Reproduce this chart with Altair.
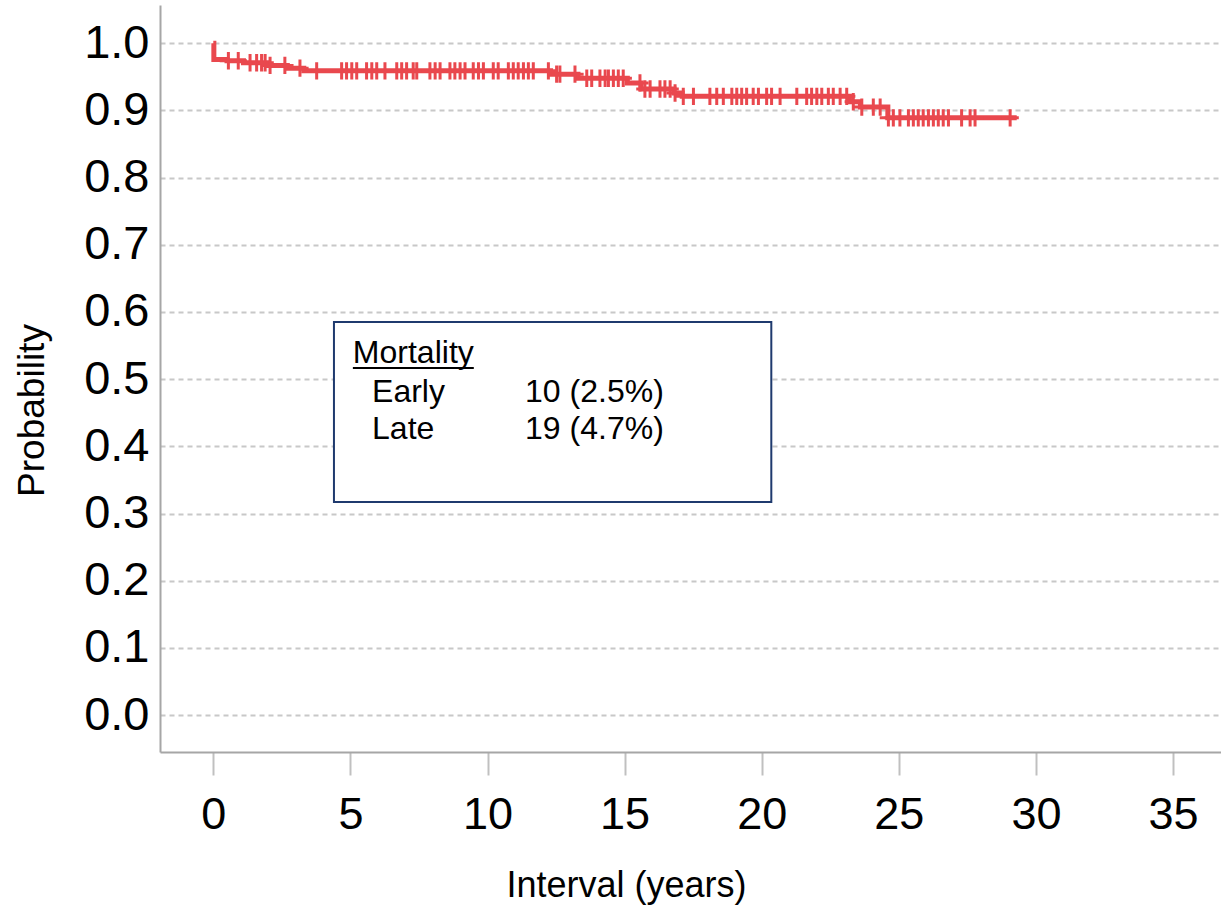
import altair as alt
import pandas as pd

# Kaplan-Meier step curve
step_times = [0.0, 0.02, 0.5, 1.1, 2.0, 2.7, 3.3, 12.3, 13.3, 15.1, 15.6, 16.8, 17.1, 23.2, 23.6, 24.6, 29.3]
step_surv = [1.0, 0.976, 0.974, 0.971, 0.967, 0.963, 0.959, 0.954, 0.948, 0.941, 0.932, 0.926, 0.921, 0.913, 0.905, 0.889, 0.889]

# Censoring times (+ marks)
censor_times = [
    0.55, 0.91, 1.34, 1.58, 1.76, 1.89, 2.07, 2.61, 3.16, 3.77, 4.68, 4.86, 5.05, 5.23,
    5.59, 5.78, 5.96, 6.26, 6.69, 6.87, 7.05, 7.29, 7.42, 7.90, 8.09, 8.27, 8.63, 8.81,
    9.00, 9.18, 9.48, 9.67, 9.85, 10.21, 10.39, 10.76, 10.94, 11.12, 11.31, 11.49, 11.67,
    12.22, 12.52, 12.64, 13.19, 13.62, 13.80, 14.10, 14.29, 14.41, 14.59, 14.77, 14.95,
    15.56, 15.74, 15.93, 16.29, 16.47, 16.66, 16.84, 17.14, 17.51, 18.11, 18.36, 18.60,
    18.91, 19.09, 19.27, 19.45, 19.69, 19.88, 20.18, 20.36, 20.67, 21.28, 21.64, 21.82,
    22.01, 22.19, 22.43, 22.61, 22.86, 23.10, 23.34, 23.65, 24.07, 24.32, 24.62, 24.80,
    25.04, 25.35, 25.53, 25.71, 25.89, 26.08, 26.26, 26.44, 26.62, 26.81, 27.29, 27.60,
    27.78, 29.06,
]

x_ticks = [0, 5, 10, 15, 20, 25, 30, 35]
y_ticks = [0.0, 0.1, 0.2, 0.3, 0.4, 0.5, 0.6, 0.7, 0.8, 0.9, 1.0]

# Annotation box (data units)
box_x = [4.40, 20.35]
box_y = [0.317, 0.585]
note_labels = ["Mortality", "Early", "10 (2.5%)", "Late", "19 (4.7%)"]
note_x = [5.09, 5.79, 11.37, 5.79, 11.37]
note_y = [0.524, 0.466, 0.466, 0.411, 0.411]
underline_x = [5.09, 9.50]
underline_y = 0.5166

RED = "#e9484e"
FONT = "Liberation Sans"


def surv_at(t):
    s = step_surv[0]
    for tt, ss in zip(step_times, step_surv):
        if tt <= t:
            s = ss
    return s


line_df = pd.DataFrame({"t": step_times, "s": step_surv})
cens_df = pd.DataFrame({"t": censor_times, "s": [surv_at(t) for t in censor_times]})
box_df = pd.DataFrame({"x": [box_x[0]], "x2": [box_x[1]], "y": [box_y[0]], "y2": [box_y[1]]})
note_df = pd.DataFrame({"label": note_labels, "x": note_x, "y": note_y})
ul_df = pd.DataFrame({"x": [underline_x[0]], "x2": [underline_x[1]], "y": [underline_y]})

x_scale = alt.Scale(domain=[-1.944, 36.75], nice=False, zero=False)
y_scale = alt.Scale(domain=[-0.055, 1.057], nice=False, zero=False)

x_axis = alt.Axis(
    values=x_ticks, format="d", grid=False,
    domainColor="#a6a6a6", domainWidth=2,
    tickColor="#c0c0c0", tickWidth=2, tickSize=23,
    labelFont=FONT, labelFontSize=45, labelColor="black", labelPadding=17,
    labelBaseline="top",
    title="Interval (years)", titleFont=FONT, titleFontSize=36, titleFontWeight="normal",
    titleColor="black", titleX=466, titleY=144, titleAlign="center", titleBaseline="alphabetic",
    titleAnchor="start",
)
y_axis = alt.Axis(
    values=y_ticks, format=".1f", grid=True, gridColor="#c8c8c8", gridDash=[5, 4], gridWidth=2,
    ticks=False, domainColor="#a6a6a6", domainWidth=2,
    labelFont=FONT, labelFontSize=47, labelColor="black", labelPadding=11,
    title="Probability", titleFont=FONT, titleFontSize=37, titleFontWeight="normal",
    titleColor="black", titleX=-117, titleY=405, titleAngle=270, titleAlign="center",
    titleBaseline="alphabetic", titleAnchor="start",
)

line = alt.Chart(line_df).mark_line(interpolate="step-after", color=RED, strokeWidth=5).encode(
    x=alt.X("t:Q", scale=x_scale, axis=x_axis),
    y=alt.Y("s:Q", scale=y_scale, axis=y_axis),
)

cens = alt.Chart(cens_df).mark_point(
    shape="M0,-1L0,1M-1,0L1,0", size=300, stroke=RED, strokeWidth=3, opacity=1, filled=False
).encode(x=alt.X("t:Q", scale=x_scale), y=alt.Y("s:Q", scale=y_scale))

box = alt.Chart(box_df).mark_rect(fill="white", stroke="#1f3a6e", strokeWidth=2).encode(
    x=alt.X("x:Q", scale=x_scale), x2="x2", y=alt.Y("y:Q", scale=y_scale), y2="y2"
)

notes = alt.Chart(note_df).mark_text(
    font=FONT, fontSize=32, align="left", baseline="alphabetic", color="black"
).encode(x=alt.X("x:Q", scale=x_scale), y=alt.Y("y:Q", scale=y_scale), text="label:N")

underline = alt.Chart(ul_df).mark_rule(color="black", strokeWidth=2).encode(
    x=alt.X("x:Q", scale=x_scale), x2="x2", y=alt.Y("y:Q", scale=y_scale)
)

chart = alt.layer(line, cens, box, notes, underline).properties(
    width=1061, height=747,
    autosize=alt.AutoSizeParams(type="none"),
    padding={"left": 160, "top": 5, "right": 0, "bottom": 160},
    background="white",
).configure_view(stroke=None)

chart.save("out.html", embed_options={"renderer": "svg", "actions": False})
